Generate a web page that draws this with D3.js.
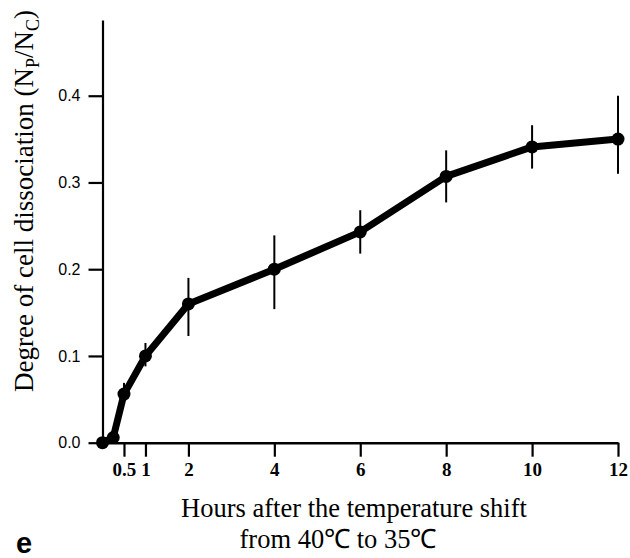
<!DOCTYPE html>
<html>
<head>
<meta charset="utf-8">
<script src="https://cdn.jsdelivr.net/npm/d3@7"></script>
<style>
  body { margin: 0; background: #fff; }
  svg { display: block; }
</style>
</head>
<body>
<script>
// data
var hours   = [0, 0.25, 0.5, 1, 2, 4, 6, 8, 10, 12];
var degree  = [0, 0.006, 0.056, 0.100, 0.160, 0.200, 0.243, 0.307, 0.341, 0.350];
var err_hi  = [null, null, 0.069, 0.115, 0.190, 0.239, 0.268, 0.337, 0.366, 0.400];
var err_lo  = [null, null, 0.045, 0.088, 0.123, 0.154, 0.218, 0.277, 0.316, 0.310];
var x_ticks = [0.5, 1, 2, 4, 6, 8, 10, 12];
var y_ticks = [0, 0.1, 0.2, 0.3, 0.4];

var width = 630, height = 558;

var points = hours.map(function(h, i) {
    return { h: h, v: degree[i], hi: err_hi[i], lo: err_lo[i] };
});

var x = d3.scaleLinear().domain([0, 12]).range([102.5, 618]);
var y = d3.scaleLinear().domain([0, 0.4873]).range([442.7, 20]);

var svg = d3.select('body')
    .append('svg')
    .attr('width', width)
    .attr('height', height);

// axes
var x_axis = svg.append('g')
    .attr('transform', `translate(0, ${y(0)})`)
    .call(d3.axisBottom(x)
        .tickValues(x_ticks)
        .tickSizeInner(14)
        .tickSizeOuter(0)
        .tickPadding(6)
        .tickFormat(function(d) { return d === 0.5 ? '0.5' : d; }));

x_axis.select('.domain').attr('stroke-width', 2.5);
x_axis.selectAll('.tick line').attr('stroke-width', 2.2);
x_axis.selectAll('text')
    .style('font-family', '"Liberation Serif", "Times New Roman", serif')
    .style('font-weight', 700)
    .style('font-size', '19px')
    .attr('fill', '#000');

var y_axis = svg.append('g')
    .attr('transform', `translate(${x(0)}, 0)`)
    .call(d3.axisLeft(y)
        .tickValues(y_ticks)
        .tickSizeInner(14)
        .tickSizeOuter(0)
        .tickPadding(8)
        .tickFormat(d3.format('.1f')));

y_axis.select('.domain').attr('stroke-width', 2.2);
y_axis.selectAll('.tick line').attr('stroke-width', 2.2);
y_axis.selectAll('text')
    .style('font-family', '"Liberation Sans", Arial, sans-serif')
    .style('font-size', '16px')
    .attr('fill', '#000');

svg.selectAll('.domain, .tick line').attr('stroke', '#000');

// error bars
svg.append('g')
    .selectAll('line')
    .data(points.filter(function(d) { return d.hi !== null; }))
    .enter()
    .append('line')
    .attr('x1', function(d) { return x(d.h); })
    .attr('x2', function(d) { return x(d.h); })
    .attr('y1', function(d) { return y(d.lo); })
    .attr('y2', function(d) { return y(d.hi); })
    .attr('stroke', '#000')
    .attr('stroke-width', 2);

// curve
var line = d3.line()
    .x(function(d) { return x(d.h); })
    .y(function(d) { return y(d.v); });

svg.append('path')
    .datum(points)
    .attr('d', line)
    .attr('fill', 'none')
    .attr('stroke', '#000')
    .attr('stroke-width', 7)
    .attr('stroke-linejoin', 'round');

svg.append('g')
    .selectAll('circle')
    .data(points)
    .enter()
    .append('circle')
    .attr('cx', function(d) { return x(d.h); })
    .attr('cy', function(d) { return y(d.v); })
    .attr('r', 6.5)
    .attr('fill', '#000');

// titles
var serif = '"Liberation Serif", "Times New Roman", serif';

var y_title = svg.append('text')
    .attr('transform', 'translate(33, 201) rotate(-90)')
    .attr('text-anchor', 'middle')
    .style('font-family', serif)
    .style('font-size', '27px')
    .attr('fill', '#000');
y_title.append('tspan').text('Degree of cell dissociation (N');
y_title.append('tspan').attr('dy', 6).style('font-size', '18px').text('P');
y_title.append('tspan').attr('dy', -6).text('/N');
y_title.append('tspan').attr('dy', 6).style('font-size', '18px').text('C');
y_title.append('tspan').attr('dy', -6).text(')');

svg.append('text')
    .attr('x', 354)
    .attr('y', 517)
    .attr('text-anchor', 'middle')
    .style('font-family', serif)
    .style('font-size', '26.5px')
    .attr('fill', '#000')
    .text('Hours after the temperature shift');

svg.append('text')
    .attr('x', 338)
    .attr('y', 548)
    .attr('text-anchor', 'middle')
    .style('font-family', serif)
    .style('font-size', '26.5px')
    .attr('fill', '#000')
    .text('from 40\u2103 to 35\u2103');

svg.append('text')
    .attr('x', 16)
    .attr('y', 553)
    .style('font-family', '"Liberation Sans", Arial, sans-serif')
    .style('font-weight', 700)
    .style('font-size', '29px')
    .attr('fill', '#000')
    .text('e');
</script>
</body>
</html>
